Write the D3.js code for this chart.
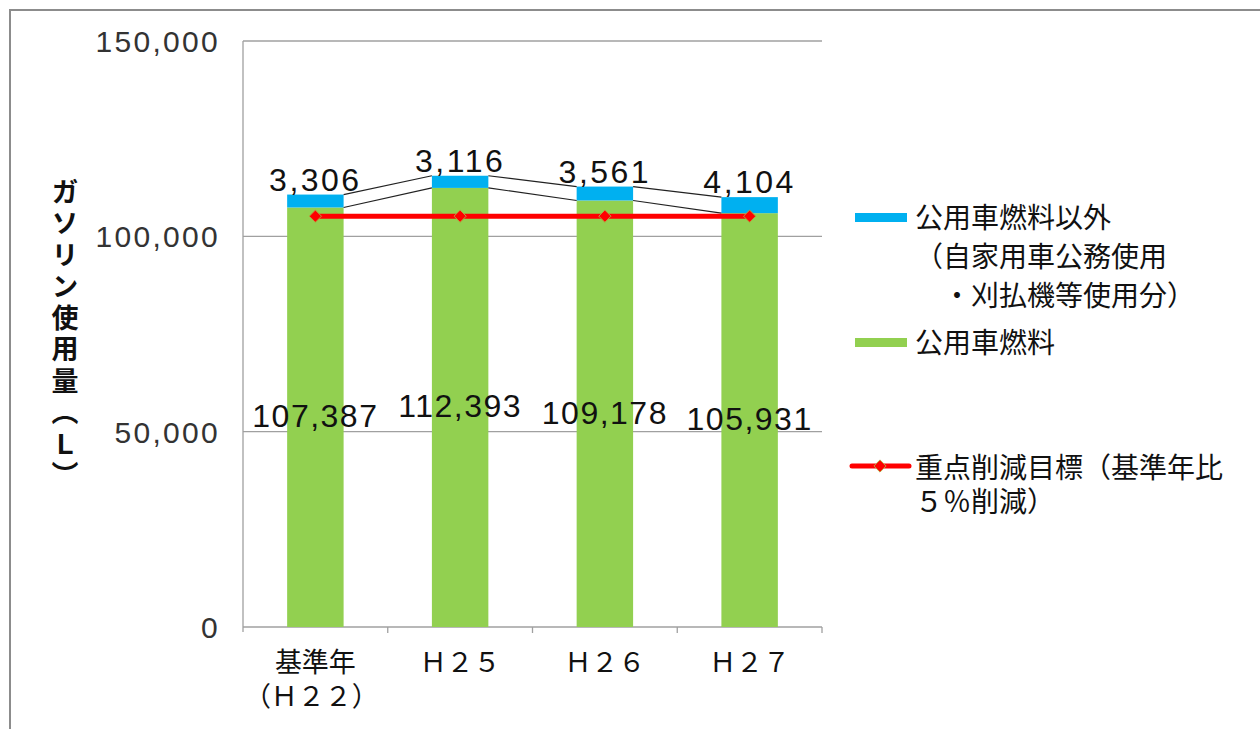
<!DOCTYPE html>
<html><head><meta charset="utf-8">
<script src="https://cdnjs.cloudflare.com/ajax/libs/d3/7.8.5/d3.min.js"></script>
<style>
body{margin:0;background:#fff;}
svg{display:block;}
</style></head>
<body>
<svg id="chart" width="1260" height="729"></svg>
<script>
const categories = [["基準年","（Ｈ２２）"],["Ｈ２５"],["Ｈ２６"],["Ｈ２７"]];
const catKeys = ["base","H25","H26","H27"];
const officialFuel = [107387, 112393, 109178, 105931];
const otherFuel = [3306, 3116, 3561, 4104];
const targetValues = [105158, 105158, 105158, 105158];
const yTicks = [0, 50000, 100000, 150000];
const legendOther = ["公用車燃料以外","（自家用車公務使用","　・刈払機等使用分）"];
const legendOfficial = ["公用車燃料"];
const legendTarget = ["重点削減目標（基準年比","５％削減）"];

const svg = d3.select("#chart");
const pL = 243, pR = 822, pT = 41, pB = 627;
const jpFont = "'Noto Sans CJK JP', sans-serif";
const numFont = "'Liberation Sans', Arial, sans-serif";

// frame
svg.append("rect").attr("x",10).attr("y",10).attr("width",1270).attr("height",730)
  .attr("fill","none").attr("stroke","#8c8c8c").attr("stroke-width",2);

const x = d3.scaleBand().domain(catKeys).range([pL,pR]).paddingInner(0.61).paddingOuter(0.305);
const xc = d3.scaleBand().domain(catKeys).range([pL,pR]);
const y = d3.scaleLinear().domain([0,150000]).range([pB,pT]);

// gridlines
svg.append("g").selectAll("line").data(yTicks).join("line")
  .attr("x1",pL).attr("x2",pR).attr("y1",d=>y(d)).attr("y2",d=>y(d))
  .attr("stroke","#a0a0a0").attr("stroke-width",1.3);

// y axis line
svg.append("line").attr("x1",pL).attr("x2",pL).attr("y1",pT).attr("y2",pB+5)
  .attr("stroke","#a0a0a0").attr("stroke-width",1.3);
// x ticks at category boundaries
svg.append("g").selectAll("line").data(catKeys.slice(1)).join("line")
  .attr("x1",d=>xc(d)).attr("x2",d=>xc(d)).attr("y1",pB).attr("y2",pB+6)
  .attr("stroke","#a0a0a0").attr("stroke-width",1.3);
svg.append("line").attr("x1",pR).attr("x2",pR).attr("y1",pB).attr("y2",pB+6)
  .attr("stroke","#a0a0a0").attr("stroke-width",1.3);

// y tick labels
svg.append("g").selectAll("text").data(yTicks).join("text")
  .attr("x",220).attr("y",d=>y(d)+11).attr("text-anchor","end")
  .attr("font-family",numFont).attr("font-size",30).attr("letter-spacing",2.3)
  .attr("fill","#333").text(d=>d3.format(",")(d));

// bars
const bw = x.bandwidth();
svg.append("g").selectAll("rect").data(catKeys).join("rect")
  .attr("x",d=>x(d)).attr("width",bw)
  .attr("y",(d,i)=>y(officialFuel[i])).attr("height",(d,i)=>y(0)-y(officialFuel[i]))
  .attr("fill","#92d050");
svg.append("g").selectAll("rect").data(catKeys).join("rect")
  .attr("x",d=>x(d)).attr("width",bw)
  .attr("y",(d,i)=>y(officialFuel[i]+otherFuel[i])).attr("height",(d,i)=>y(officialFuel[i])-y(officialFuel[i]+otherFuel[i]))
  .attr("fill","#00b0f0");

// series lines
const sl = svg.append("g").attr("stroke","#222").attr("stroke-width",1.2);
for(let i=0;i<catKeys.length-1;i++){
  const x1 = x(catKeys[i])+bw, x2 = x(catKeys[i+1]);
  sl.append("line").attr("x1",x1).attr("x2",x2).attr("y1",y(officialFuel[i])).attr("y2",y(officialFuel[i+1]));
  sl.append("line").attr("x1",x1).attr("x2",x2)
    .attr("y1",y(officialFuel[i]+otherFuel[i])).attr("y2",y(officialFuel[i+1]+otherFuel[i+1]));
}

// target line
const cx = d=>xc(d)+xc.bandwidth()/2;
svg.append("path").datum(targetValues)
  .attr("d",d3.line().x((d,i)=>cx(catKeys[i])).y(d=>y(d)))
  .attr("fill","none").attr("stroke","#ff0000").attr("stroke-width",5);
const diamond = d3.symbol().type(d3.symbolDiamond2).size(95);
svg.append("g").selectAll("path").data(targetValues).join("path")
  .attr("transform",(d,i)=>`translate(${cx(catKeys[i])},${y(d)})`)
  .attr("d",diamond).attr("fill","#ff0000").attr("stroke","#b8a040").attr("stroke-width",1);

// data labels
svg.append("g").selectAll("text").data(officialFuel).join("text")
  .attr("x",(d,i)=>cx(catKeys[i])).attr("y",d=>y(d/2)+10).attr("text-anchor","middle")
  .attr("font-family",numFont).attr("font-size",32).attr("letter-spacing",1.5)
  .attr("fill","#111").text(d=>d3.format(",")(d));
svg.append("g").selectAll("text").data(otherFuel).join("text")
  .attr("x",(d,i)=>cx(catKeys[i])).attr("y",(d,i)=>y(officialFuel[i]+d)-4).attr("text-anchor","middle")
  .attr("font-family",numFont).attr("font-size",32).attr("letter-spacing",2.5)
  .attr("fill","#111").text(d=>d3.format(",")(d));

// x labels
const xl = svg.append("g").selectAll("text").data(categories).join("text")
  .attr("font-family",jpFont).attr("font-size",27).attr("fill","#111").attr("text-anchor","middle");
xl.each(function(lines,i){
  const t = d3.select(this);
  lines.forEach((l,j)=>{
    t.append("tspan").attr("x",cx(catKeys[i])-(j?4:0)).attr("y",672+j*34).text(l);
  });
});

// y axis title
svg.append("text").attr("x",65).attr("y",178)
  .attr("font-family",jpFont).attr("font-size",27).attr("font-weight","bold")
  .attr("letter-spacing",4.5).attr("fill","#111")
  .style("writing-mode","vertical-rl")
  .text("ガソリン使用量（Ｌ）");

// legend
const lg = svg.append("g").attr("font-family",jpFont).attr("font-size",28).attr("fill","#111");
lg.append("rect").attr("x",855).attr("y",213).attr("width",52).attr("height",9).attr("fill","#00b0f0");
legendOther.forEach((t,i)=>lg.append("text").attr("x",915).attr("y",228+i*39).text(t));
lg.append("rect").attr("x",855).attr("y",338).attr("width",52).attr("height",9).attr("fill","#92d050");
legendOfficial.forEach((t,i)=>lg.append("text").attr("x",915).attr("y",353+i*39).text(t));
lg.append("line").attr("x1",852).attr("x2",909).attr("y1",466).attr("y2",466)
  .attr("stroke","#ff0000").attr("stroke-width",5).attr("stroke-linecap","round");
lg.append("path").attr("transform","translate(880,466)").attr("d",diamond)
  .attr("fill","#ff0000").attr("stroke","#b8a040").attr("stroke-width",1);
legendTarget.forEach((t,i)=>lg.append("text").attr("x",915).attr("y",478+i*34).text(t));
</script>
</body></html>
